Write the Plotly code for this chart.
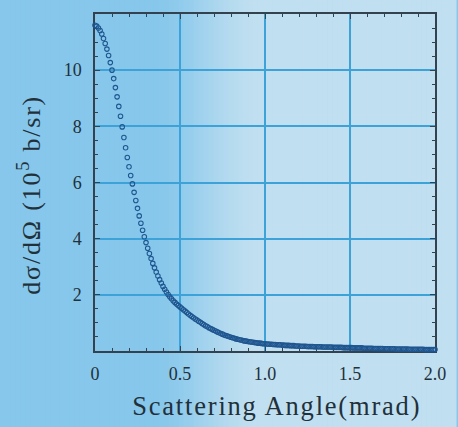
import plotly.graph_objects as go

# Scattering angle grid (mrad): first sample and spacing
ANGLE_START = 0.0
ANGLE_STEP = 0.01

# Differential cross section dσ/dΩ (units of 10^5 b/sr), one value per angle step
cross_section = [
    11.60, 11.57, 11.50, 11.41, 11.29, 11.13, 10.95, 10.75, 10.52, 10.27,
    10.00, 9.70, 9.38, 9.05, 8.71, 8.36, 7.98, 7.60, 7.24, 6.89,
    6.56, 6.25, 5.95, 5.65, 5.36, 5.08, 4.81, 4.55, 4.30, 4.07,
    3.86, 3.66, 3.47, 3.29, 3.12, 2.96, 2.81, 2.67, 2.54, 2.42,
    2.30, 2.20, 2.10, 2.01, 1.93, 1.86, 1.79, 1.73, 1.67, 1.62,
    1.57, 1.52, 1.47, 1.42, 1.37, 1.32, 1.27, 1.23, 1.18, 1.14,
    1.10, 1.06, 1.02, 0.98, 0.94, 0.90, 0.87, 0.83, 0.80, 0.77,
    0.74, 0.71, 0.68, 0.65, 0.62, 0.60, 0.57, 0.55, 0.53, 0.51,
    0.49, 0.47, 0.45, 0.43, 0.42, 0.40, 0.39, 0.37, 0.36, 0.35,
    0.34, 0.33, 0.32, 0.31, 0.30, 0.29, 0.28, 0.28, 0.27, 0.26,
    0.26, 0.25, 0.25, 0.24, 0.24, 0.23, 0.23, 0.22, 0.22, 0.22,
    0.21, 0.21, 0.20, 0.20, 0.20, 0.19, 0.19, 0.19, 0.18, 0.18,
    0.18, 0.17, 0.17, 0.17, 0.17, 0.16, 0.16, 0.16, 0.16, 0.15,
    0.15, 0.15, 0.15, 0.15, 0.14, 0.14, 0.14, 0.14, 0.14, 0.14,
    0.13, 0.13, 0.13, 0.13, 0.13, 0.13, 0.12, 0.12, 0.12, 0.12,
    0.12, 0.12, 0.11, 0.11, 0.11, 0.11, 0.11, 0.11, 0.10, 0.10,
    0.10, 0.10, 0.10, 0.10, 0.09, 0.09, 0.09, 0.09, 0.09, 0.09,
    0.08, 0.08, 0.08, 0.08, 0.08, 0.08, 0.08, 0.07, 0.07, 0.07,
    0.07, 0.07, 0.07, 0.07, 0.07, 0.06, 0.06, 0.06, 0.06, 0.06,
    0.06, 0.06, 0.06, 0.06, 0.05, 0.05, 0.05, 0.05, 0.05, 0.05,
    0.05,
]

x_tick_vals = [0, 0.5, 1.0, 1.5, 2.0]
x_tick_text = ["0", "0.5", "1.0", "1.5", "2.0"]
y_tick_vals = [2, 4, 6, 8, 10]
y_tick_text = ["2", "4", "6", "8", "10"]

x_title = "Scattering Angle(mrad)"
y_title = "dσ/dΩ (10<sup>5</sup> b/sr)"

W, H = 458, 427
ML, MR, MT, MB = 95, 21, 12, 76
PW, PH = W - ML - MR, H - MT - MB

GRID = "#3da2d8"
AXIS = "#33424e"
TEXT = "#22303a"
MARK = "#1f5690"
FONT = "Liberation Serif"

fig = go.Figure()
fig.add_trace(go.Scatter(
    x0=ANGLE_START, dx=ANGLE_STEP, y=cross_section,
    mode="markers",
    marker=dict(symbol="circle-open", size=4.5, color=MARK, line=dict(width=1.1, color=MARK)),
    cliponaxis=False,
    showlegend=False,
))

# horizontal colour wash behind the whole figure (sky blue -> pale blue)
left_c = (134, 199, 235)
right_c = (192, 223, 240)
shapes = []
n_strips = 92
for i in range(n_strips):
    p0 = i * W / n_strips
    p1 = (i + 1) * W / n_strips
    mid = 0.5 * (p0 + p1)
    t = min(1.0, max(0.0, (mid - 150) / (262 - 150)))
    t = t * t * (3 - 2 * t)
    col = tuple(round(a + (b - a) * t) for a, b in zip(left_c, right_c))
    shapes.append(dict(
        type="rect", xref="paper", yref="paper",
        x0=(p0 - ML) / PW, x1=(p1 - ML) / PW + 0.002,
        y0=-(MB + 2) / PH, y1=1 + (MT + 2) / PH,
        fillcolor="rgb(%d,%d,%d)" % col, line=dict(width=0), layer="below",
    ))

axis_common = dict(
    showline=True, linecolor=AXIS, linewidth=1.5, mirror="ticks",
    ticks="inside", ticklen=5, tickwidth=1.2, tickcolor=AXIS,
    showgrid=True, gridcolor=GRID, gridwidth=1.5,
    zeroline=False, layer="below traces",
    tickfont=dict(family=FONT, size=18, color=TEXT),
)

fig.update_xaxes(
    range=[0, 2.0], tickmode="array", tickvals=x_tick_vals, ticktext=x_tick_text,
    minor=dict(dtick=0.1, ticks="inside", ticklen=3, tickcolor=AXIS, showgrid=False),
    ticklabelstandoff=6,
    **axis_common,
)
fig.update_yaxes(
    range=[0, 12], tickmode="array", tickvals=y_tick_vals, ticktext=y_tick_text,
    minor=dict(dtick=0.5, ticks="inside", ticklen=3, tickcolor=AXIS, showgrid=False),
    ticklabelstandoff=8,
    **axis_common,
)

fig.update_layout(
    width=W, height=H,
    margin=dict(l=ML, r=MR, t=MT, b=MB),
    paper_bgcolor="rgb(%d,%d,%d)" % left_c,
    plot_bgcolor="rgba(0,0,0,0)",
    shapes=shapes,
    annotations=[
        dict(text=x_title, xref="paper", yref="paper",
             x=(278 - ML) / PW, y=-(406 - MT - PH) / PH,
             xanchor="center", yanchor="middle", showarrow=False,
             font=dict(family=FONT, size=26.5, color=TEXT)),
        dict(text=y_title, xref="paper", yref="paper",
             x=(30 - ML) / PW, y=1 - (194 - MT) / PH,
             xanchor="center", yanchor="middle", showarrow=False, textangle=-90,
             font=dict(family=FONT, size=26, color=TEXT)),
    ],
)

# the axis titles are typeset with slightly open letter spacing
spacing_js = (
    "document.querySelectorAll('.annotation-text').forEach(function(t){"
    "t.setAttribute('letter-spacing','1.8px');});"
)

fig.write_html("out.html", post_script=spacing_js)
